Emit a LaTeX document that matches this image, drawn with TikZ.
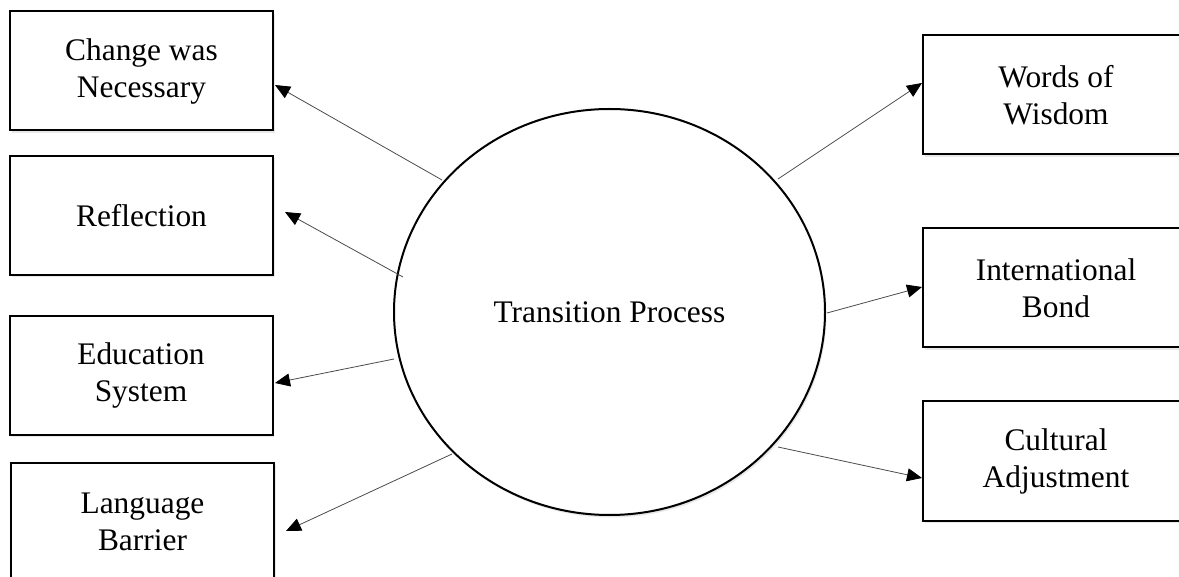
\documentclass[tikz,border=0pt]{standalone}
\usepackage{fontspec}
\setmainfont{Liberation Serif}
\usetikzlibrary{arrows.meta,shadows,shapes.geometric}
\begin{document}
\begin{tikzpicture}[x=1pt,y=-1pt,
  txt/.style={font=\fontsize{31.4}{37}\selectfont, align=center},
  shadowed/.style={drop shadow={opacity=0.18, shadow xshift=1.5pt, shadow yshift=-2.5pt}},
  box/.style={txt, draw=black, line width=2pt, fill=white, minimum width=263pt, minimum height=119pt, inner sep=0pt, shadowed},
  rbox/.style={box, minimum width=266pt},
  hub/.style={txt, ellipse, draw=black, line width=2pt, fill=white, minimum width=431pt, minimum height=406pt, inner sep=0pt, shadowed},
  arr/.style={draw=black!70, line width=0.8pt, -{Triangle[length=15pt,width=13pt,fill=black,color=black]}}
]
\clip (0,0) rectangle (1179,577);
\fill[white] (0,0) rectangle (1179,577);
% left boxes
\node[box] (b1) at (141.5,71) {Change was\\Necessary};
\node[box] (b2) at (141.5,215.5) {Reflection};
\node[box] (b3) at (141,375.5) {Education\\System};
\node[box] (b4) at (142.5,522) {Language\\Barrier};
% right boxes
\node[rbox] (b5) at (1056,95) {Words of\\Wisdom};
\node[rbox] (b6) at (1056,288) {International\\Bond};
\node[rbox] (b7) at (1056,461) {Cultural\\Adjustment};
% hub
\node[hub] (tp) at (609.5,312) {Transition Process};
% arrow end points
\coordinate (s1) at (442,180); \coordinate (e1) at (275,85);
\coordinate (s2) at (403,277); \coordinate (e2) at (285,212);
\coordinate (s3) at (394,359); \coordinate (e3) at (275,383);
\coordinate (s4) at (452,454); \coordinate (e4) at (286,531);
\coordinate (s5) at (778,179); \coordinate (e5) at (922,83);
\coordinate (s6) at (827,313); \coordinate (e6) at (922,287);
\coordinate (s7) at (778,447); \coordinate (e7) at (922,478);
\draw[arr] (s1) -- (e1);
\draw[arr] (s2) -- (e2);
\draw[arr] (s3) -- (e3);
\draw[arr] (s4) -- (e4);
\draw[arr] (s5) -- (e5);
\draw[arr] (s6) -- (e6);
\draw[arr] (s7) -- (e7);
\end{tikzpicture}
\end{document}
